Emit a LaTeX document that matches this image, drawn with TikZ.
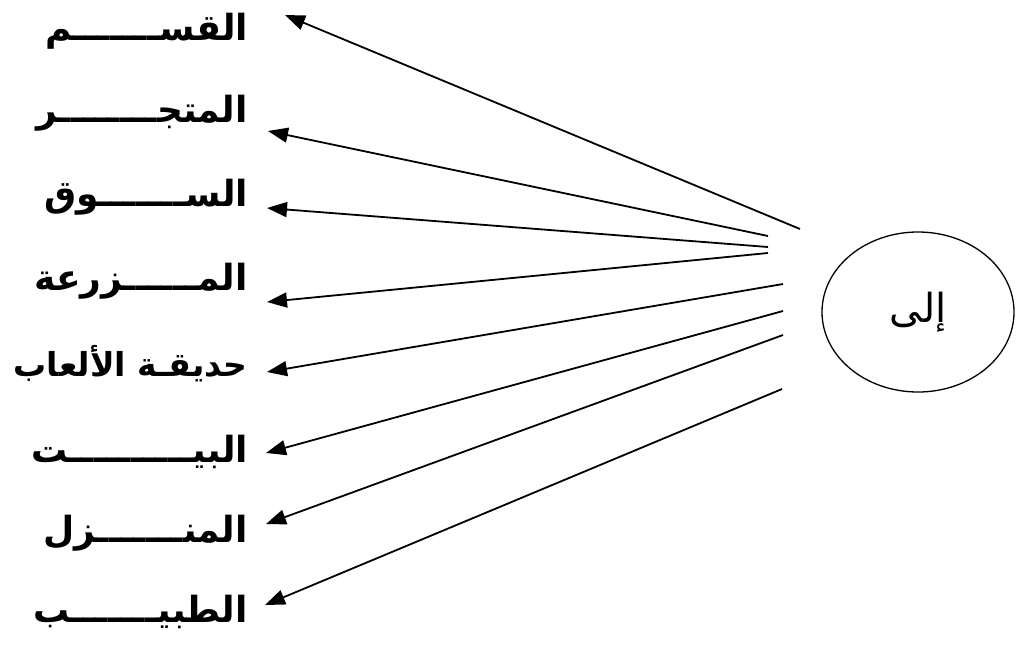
\documentclass[tikz,border=0pt]{standalone}
\usepackage{fontspec}
\usetikzlibrary{arrows.meta,shapes.geometric}
\TeXXeTstate=1
\newfontfamily\arabicfont[Script=Arabic]{DejaVu Sans}
\begin{document}
\begin{tikzpicture}[x=1pt,y=-1pt,
  lbl/.style={anchor=base east,inner sep=0pt,font=\arabicfont\bfseries\fontsize{36}{38}\selectfont},
  conn/.style={line width=1.8pt,-{Triangle[length=20pt,width=15pt]}},
  hub/.style={ellipse,draw,line width=1.3pt,minimum width=192pt,minimum height=160pt,inner sep=0pt,font=\arabicfont\fontsize{40}{42}\selectfont}]
\useasboundingbox (0,0) rectangle (1016,646);
\fill[white] (0,0) rectangle (1016,646);
\node[hub] (ila) at (918,312) {\beginR إلى\endR};
\node[lbl] (l1) at (248,40)  {\beginR القســـــــم\endR};
\node[lbl] (l2) at (248,122) {\beginR المتجــــــــر\endR};
\node[lbl] (l3) at (248,206) {\beginR الســـــــوق\endR};
\node[lbl] (l4) at (248,290) {\beginR المــــــزرعة\endR};
\node[lbl,font=\arabicfont\bfseries\fontsize{33}{35}\selectfont] (l5) at (248,376) {\beginR حديقـة الألعاب\endR};
\node[lbl] (l6) at (248,462) {\beginR البيــــــــــت\endR};
\node[lbl] (l7) at (248,542) {\beginR المنـــــــزل\endR};
\node[lbl] (l8) at (248,622) {\beginR الطبيـــــــب\endR};
\coordinate (s1) at (800,229); \coordinate (t1) at (285,15);
\coordinate (s2) at (768,236); \coordinate (t2) at (268,131);
\coordinate (s3) at (768,247); \coordinate (t3) at (267,208);
\coordinate (s4) at (768,253); \coordinate (t4) at (267,302);
\coordinate (s5) at (783,284); \coordinate (t5) at (267,372);
\coordinate (s6) at (783,311); \coordinate (t6) at (266,453);
\coordinate (s7) at (783,335); \coordinate (t7) at (266,524);
\coordinate (s8) at (782,389); \coordinate (t8) at (265,605);
\foreach \i in {1,...,8} \draw[conn] (s\i) -- (t\i);
\end{tikzpicture}
\end{document}
